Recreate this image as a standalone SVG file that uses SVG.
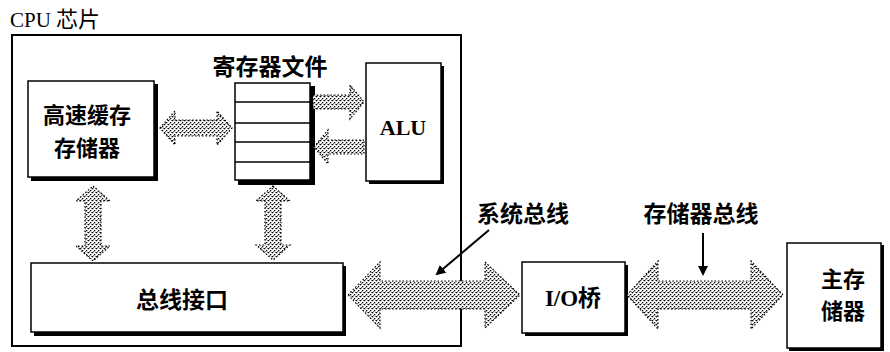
<svg xmlns="http://www.w3.org/2000/svg" width="890" height="352" viewBox="0 0 890 352">
<style>
.box{fill:#fff;stroke:#000;stroke-width:1.5}
.sh{fill:#000}
.bus{fill:url(#stip);stroke:#000;stroke-width:1.2;stroke-dasharray:1.5 2}
.zh{font-family:"Noto Sans CJK SC","Noto Sans",sans-serif;font-weight:bold;fill:#000}
.en{font-family:"Liberation Serif",serif;font-weight:bold;fill:#000}
.ptr{stroke:#000;stroke-width:2;fill:none;marker-end:url(#ah)}
</style>
<defs>
<pattern id="stip" width="4" height="4" patternUnits="userSpaceOnUse">
<rect width="4" height="4" fill="#fff"/>
<rect x="0" y="0" width="1.3" height="1.3" fill="#000"/>
<rect x="2" y="2" width="1.3" height="1.3" fill="#000"/>
<rect x="3" y="0" width="1" height="1" fill="#777"/>
<rect x="1" y="3" width="1" height="1" fill="#777"/>
</pattern>
<marker id="ah" markerWidth="10" markerHeight="10" refX="8" refY="5" orient="auto" markerUnits="userSpaceOnUse" viewBox="0 0 10 10">
<path d="M0,0 L10,5 L0,10 Z" fill="#000"/>
</marker>
</defs>
<rect width="890" height="352" fill="#fff"/>

<g id="cpu">
<rect x="12" y="35" width="449" height="311" fill="none" stroke="#000" stroke-width="2"/>
<text x="10" y="27" font-family="Liberation Serif,Noto Sans CJK SC,serif" font-size="21" fill="#000">CPU <tspan font-family="Noto Sans CJK SC,sans-serif" font-size="22">芯片</tspan></text>
</g>

<g id="cache">
<rect class="sh" x="31" y="84" width="127" height="97"/>
<rect class="box" x="28" y="81" width="126" height="96"/>
<text class="zh" x="87" y="123" font-size="22" text-anchor="middle">高速缓存</text>
<text class="zh" x="87" y="156" font-size="22" text-anchor="middle">存储器</text>
</g>

<g id="regfile">
<text class="zh" x="270" y="75" font-size="23" text-anchor="middle">寄存器文件</text>
<rect class="sh" x="238" y="86" width="77" height="99"/>
<rect class="box" x="235" y="83" width="75" height="97"/>
<line x1="235" y1="102" x2="310" y2="102" stroke="#000" stroke-width="1.3"/>
<line x1="235" y1="123" x2="310" y2="123" stroke="#000" stroke-width="1.3"/>
<line x1="235" y1="142" x2="310" y2="142" stroke="#000" stroke-width="1.3"/>
<line x1="235" y1="162" x2="310" y2="162" stroke="#000" stroke-width="1.3"/>
</g>

<g id="alu">
<rect class="sh" x="369" y="66" width="75" height="118"/>
<rect class="box" x="366" y="63" width="75" height="118"/>
<text class="en" x="403" y="135" font-size="22" text-anchor="middle">ALU</text>
</g>

<g id="businterface">
<rect class="sh" x="34" y="266" width="312" height="70"/>
<rect class="box" x="31" y="263" width="312" height="69"/>
<text class="zh" x="182" y="308" font-size="23" text-anchor="middle">总线接口</text>
</g>

<g id="iobridge">
<rect class="sh" x="525" y="265" width="103" height="71"/>
<rect class="box" x="522" y="262" width="103" height="71"/>
<text x="573" y="306" font-size="23" text-anchor="middle" fill="#000"><tspan class="en">I/O</tspan><tspan class="zh">桥</tspan></text>
</g>

<g id="mainmem">
<rect class="sh" x="789" y="245" width="95" height="106"/>
<rect class="box" x="787" y="243" width="94" height="105"/>
<text class="zh" x="843" y="287" font-size="22" text-anchor="middle">主存</text>
<text class="zh" x="843" y="319" font-size="22" text-anchor="middle">储器</text>
</g>

<g id="connectors">
<path class="bus" d="M160,128 L175,111 L175,120 L217,120 L217,111 L232,128 L217,145 L217,136 L175,136 L175,145 Z"/>
<path class="bus" d="M313,95 L350,95 L350,85 L364,102 L350,119 L350,109 L313,109 Z"/>
<path class="bus" d="M364,140 L328,140 L328,130 L314,147 L328,164 L328,154 L364,154 Z"/>
<path class="bus" d="M93,186 L110,201 L101,201 L101,246 L110,246 L93,261 L76,246 L85,246 L85,201 L76,201 Z"/>
<path class="bus" d="M273,186 L290,201 L281,201 L281,245 L290,245 L273,260 L256,245 L265,245 L265,201 L256,201 Z"/>
<path class="bus" d="M348,295 L380,262 L380,281 L485,281 L485,262 L520,295 L485,328 L485,309 L380,309 L380,328 Z"/>
<path class="bus" d="M627,295 L658,261 L658,281 L751,281 L751,261 L783,295 L751,329 L751,309 L658,309 L658,329 Z"/>
<line class="ptr" x1="489" y1="230" x2="437" y2="274"/>
<line class="ptr" x1="703" y1="233" x2="703" y2="274"/>
</g>

<g id="labels">
<text class="zh" x="523" y="222" font-size="23" text-anchor="middle">系统总线</text>
<text class="zh" x="701" y="222" font-size="23" text-anchor="middle">存储器总线</text>
</g>
</svg>
